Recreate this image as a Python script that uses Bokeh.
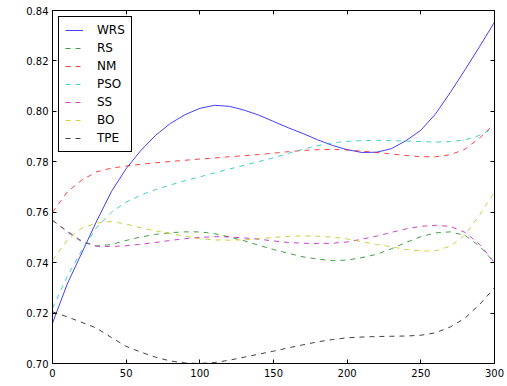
from bokeh.plotting import figure
from bokeh.models import Range1d, FixedTicker, LinearAxis, PrintfTickFormatter
from bokeh.embed import file_html
from bokeh.resources import INLINE

x = list(range(0, 301, 10))

wrs = [0.7160, 0.7315, 0.7440, 0.7565, 0.7682, 0.7773, 0.7845, 0.7905, 0.7952, 0.7987,
       0.8012, 0.8024, 0.8020, 0.8005, 0.7985, 0.7960, 0.7935, 0.7912, 0.7887, 0.7865,
       0.7848, 0.7837, 0.7838, 0.7852, 0.7884, 0.7925, 0.7990, 0.8075, 0.8165, 0.8258, 0.8354]
rs = [0.7568, 0.7525, 0.7485, 0.7466, 0.7472, 0.7488, 0.7502, 0.7512, 0.7519, 0.7522,
      0.7522, 0.7515, 0.7502, 0.7487, 0.7469, 0.7452, 0.7437, 0.7423, 0.7414, 0.7408,
      0.7410, 0.7420, 0.7433, 0.7455, 0.7480, 0.7503, 0.7518, 0.7522, 0.7508, 0.7465, 0.7400]
nm = [0.7600, 0.7680, 0.7728, 0.7760, 0.7775, 0.7783, 0.7790, 0.7796, 0.7801, 0.7806,
      0.7811, 0.7815, 0.7820, 0.7824, 0.7829, 0.7834, 0.7840, 0.7845, 0.7848, 0.7849,
      0.7847, 0.7842, 0.7837, 0.7831, 0.7825, 0.7820, 0.7820, 0.7828, 0.7850, 0.7895, 0.7950]
pso = [0.7220, 0.7345, 0.7450, 0.7540, 0.7600, 0.7640, 0.7668, 0.7690, 0.7708, 0.7725,
       0.7740, 0.7756, 0.7771, 0.7786, 0.7801, 0.7816, 0.7833, 0.7850, 0.7864, 0.7875,
       0.7881, 0.7884, 0.7885, 0.7884, 0.7882, 0.7880, 0.7878, 0.7880, 0.7887, 0.7905, 0.7935]
ss = [0.7568, 0.7522, 0.7482, 0.7465, 0.7464, 0.7467, 0.7473, 0.7480, 0.7488, 0.7495,
      0.7500, 0.7503, 0.7502, 0.7498, 0.7493, 0.7486, 0.7480, 0.7477, 0.7476, 0.7477,
      0.7482, 0.7493, 0.7505, 0.7520, 0.7534, 0.7544, 0.7548, 0.7544, 0.7520, 0.7472, 0.7400]
bo = [0.7410, 0.7489, 0.7537, 0.7557, 0.7563, 0.7553, 0.7538, 0.7526, 0.7515, 0.7505,
      0.7495, 0.7490, 0.7489, 0.7491, 0.7495, 0.7500, 0.7504, 0.7506, 0.7505, 0.7501,
      0.7494, 0.7483, 0.7472, 0.7463, 0.7452, 0.7446, 0.7447, 0.7465, 0.7510, 0.7590, 0.7680]
tpe = [0.7205, 0.7185, 0.7163, 0.7140, 0.7103, 0.7068, 0.7045, 0.7025, 0.7010, 0.7002,
       0.7000, 0.7004, 0.7013, 0.7025, 0.7037, 0.7049, 0.7062, 0.7074, 0.7086, 0.7095,
       0.7102, 0.7105, 0.7107, 0.7108, 0.7109, 0.7112, 0.7122, 0.7145, 0.7180, 0.7235, 0.7300]

names = ["WRS", "RS", "NM", "PSO", "SS", "BO", "TPE"]
series = [wrs, rs, nm, pso, ss, bo, tpe]
colors = ["#0000ff", "#008000", "#ff0000", "#00bfbf", "#bf00bf", "#bfbf00", "#000000"]
dashes = ["solid", "5 5", "5 5", "5 5", "5 5", "5 5", "5 5"]

x_ticks = [0, 50, 100, 150, 200, 250, 300]
y_ticks = [0.70, 0.72, 0.74, 0.76, 0.78, 0.80, 0.82, 0.84]

FONT = "DejaVu Sans"

p = figure(width=507, height=386, output_backend="svg", toolbar_location=None,
           x_range=Range1d(0, 300), y_range=Range1d(0.70, 0.84),
           min_border_left=52, min_border_right=13, min_border_top=10, min_border_bottom=23)
p.background_fill_color = "white"
p.border_fill_color = "white"
p.outline_line_color = "black"
p.outline_line_width = 1
p.xgrid.visible = False
p.ygrid.visible = False

for name, ys, c, d in zip(names, series, colors, dashes):
    p.line(x, ys, line_color=c, line_width=1, line_alpha=0.75, line_dash=d, legend_label=name)

def style_axis(ax, show_labels):
    ax.axis_line_color = "black"
    ax.major_tick_in = 4
    ax.major_tick_out = 0
    ax.minor_tick_line_color = None
    ax.major_tick_line_color = "black"
    ax.major_label_text_font = FONT
    ax.major_label_text_color = "black"
    if show_labels:
        ax.major_label_text_font_size = "10px"
        ax.major_label_standoff = 5
    else:
        ax.major_label_text_font_size = "0px"
        ax.major_label_standoff = 0

p.xaxis.ticker = FixedTicker(ticks=x_ticks)
p.yaxis.ticker = FixedTicker(ticks=y_ticks)
p.yaxis.formatter = PrintfTickFormatter(format="%.2f")
style_axis(p.xaxis[0], True)
style_axis(p.yaxis[0], True)
p.yaxis[0].major_label_standoff = 4

top = LinearAxis(ticker=FixedTicker(ticks=x_ticks))
right = LinearAxis(ticker=FixedTicker(ticks=y_ticks))
style_axis(top, False)
style_axis(right, False)
p.add_layout(top, "above")
p.add_layout(right, "right")

lg = p.legend[0]
lg.location = "top_left"
lg.margin = 6
lg.padding = 6
lg.spacing = 4
lg.glyph_width = 18
lg.glyph_height = 14
lg.label_height = 14
lg.label_width = 28
lg.label_standoff = 14
lg.label_text_font = FONT
lg.label_text_font_size = "12px"
lg.label_text_color = "black"
lg.border_line_color = "black"
lg.border_line_width = 1
lg.border_line_alpha = 1
lg.background_fill_color = "white"
lg.background_fill_alpha = 1

open("out.html", "w").write(file_html(p, INLINE))
